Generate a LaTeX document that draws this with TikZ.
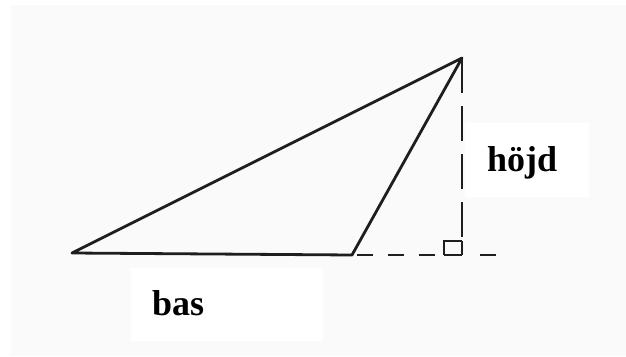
\documentclass[tikz,border=0pt]{standalone}
\usepackage{fontspec}
\setmainfont{Liberation Serif}
\definecolor{bgpaper}{HTML}{FAFAFA}
\definecolor{ink}{HTML}{1E1E1E}
\begin{document}
\begin{tikzpicture}[x=1pt,y=-1pt,
  solidline/.style={draw=ink,line width=2.8pt,line cap=round,line join=round},
  dashline/.style={draw=ink,line width=2.8pt,dash pattern=on 16pt off 15pt},
  vdashline/.style={draw=ink,line width=2.8pt,dash pattern=on 35pt off 13pt},
  labeltext/.style={font=\fontsize{36}{40}\selectfont\bfseries,text=black,inner sep=0pt,anchor=base west}]
\useasboundingbox (0,0) rectangle (626,356);
\fill[white] (0,0) rectangle (626,356);
\fill[bgpaper] (11,5) rectangle (626,356);
% label backgrounds
\fill[white] (465,123) rectangle (589,197);
\fill[white] (131,268) rectangle (323,341);
% vertices
\coordinate (A) at (72,253);
\coordinate (B) at (352,255);
\coordinate (C) at (462,58);
\coordinate (F) at (462,255);
\coordinate (E) at (503,255);
\coordinate (M1) at (444,255);
\coordinate (M2) at (444,241);
\coordinate (M3) at (462,241);
% triangle
\draw[solidline] (B) -- (A) -- (C) -- cycle;
% dashed extension of base
\draw[dashline] ([xshift=5pt]B) -- (M1);
\draw[draw=ink,line width=2.8pt] (M1) -- (F);
\draw[dashline] ([xshift=18pt]F) -- (E);
% height
\draw[vdashline] (C) -- (M3);
\draw[draw=ink,line width=2.8pt] (M3) -- (F);
% right angle mark
\draw[draw=ink,line width=2.4pt] (M1) -- (M2) -- (M3);
% labels
\node[labeltext] (hojd) at (487,171) {höjd};
\node[labeltext] (bas) at (152,315) {bas};
\end{tikzpicture}
\end{document}
